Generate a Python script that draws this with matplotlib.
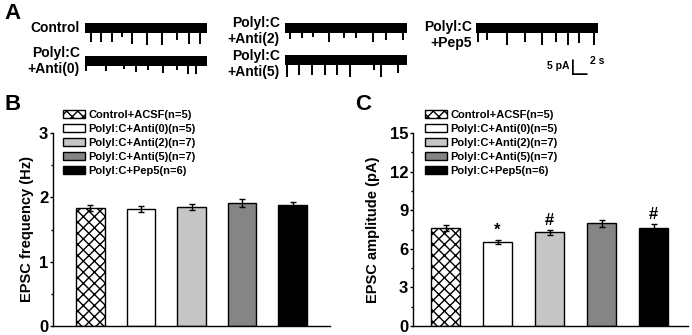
import numpy as np
import matplotlib
matplotlib.use('Agg')
import matplotlib.pyplot as plt

plt.rcParams['font.family'] = ['Liberation Sans', 'DejaVu Sans']
plt.rcParams['font.weight'] = 'bold'
plt.rcParams['axes.labelweight'] = 'bold'
plt.rcParams['hatch.linewidth'] = 1.0

# groups
groups = ['Control+ACSF(n=5)', 'Polyl:C+Anti(0)(n=5)', 'Polyl:C+Anti(2)(n=7)',
          'Polyl:C+Anti(5)(n=7)', 'Polyl:C+Pep5(n=6)']
bar_colors = ['white', 'white', '#c6c6c6', '#858585', 'black']
bar_hatch = ['xxx', None, None, None, None]

# B: EPSC frequency (Hz)
freq_mean = [1.83, 1.82, 1.85, 1.91, 1.88]
freq_err = [0.05, 0.05, 0.05, 0.06, 0.04]

# C: EPSC amplitude (pA)
amp_mean = [7.62, 6.51, 7.28, 7.98, 7.65]
amp_err = [0.25, 0.17, 0.17, 0.25, 0.25]
amp_marks = ['', '*', '#', '', '#']

# A: example traces, event times (s) and peak amplitudes (pA)
trace_len = 17.0
noise_half = 1.7
trace_names = ['Control', 'Polyl:C\n+Anti(0)', 'Polyl:C\n+Anti(2)', 'Polyl:C\n+Anti(5)', 'Polyl:C\n+Pep5']
trace_times = [
    [0.8, 2.2, 3.7, 5.1, 6.5, 8.6, 10.7, 12.8, 14.5, 16.0],
    [0.2, 2.9, 5.4, 7.1, 8.8, 10.9, 12.8, 14.3, 15.5],
    [0.7, 2.4, 3.9, 6.1, 8.2, 9.9, 12.2, 14.1, 16.5],
    [0.3, 1.9, 3.7, 5.6, 7.3, 9.0, 12.4, 13.4, 15.8],
    [0.3, 1.5, 4.3, 6.8, 9.2, 11.1, 12.8, 14.3, 16.5],
]
trace_amps = [
    [4.7, 4.7, 4.7, 3.1, 5.4, 5.6, 5.6, 3.9, 5.4, 5.4],
    [3.3, 3.3, 2.5, 3.6, 3.0, 4.1, 3.0, 4.4, 4.4],
    [3.7, 3.4, 3.0, 4.8, 3.2, 3.4, 4.5, 4.1, 4.1],
    [5.6, 5.0, 5.0, 5.0, 5.0, 5.6, 3.4, 5.6, 4.5],
    [4.5, 3.9, 5.8, 4.5, 5.6, 4.5, 5.6, 5.0, 5.8],
]

W, H = 692, 335
fig = plt.figure(figsize=(W / 100, H / 100), dpi=100)


def px_axes(left, top, width, height):
    return fig.add_axes([left / W, 1 - (top + height) / H, width / W, height / H])


# ---- panel A: traces
trace_pos = [(85, 22), (85, 55), (285, 22), (285, 54), (476, 22)]
label_pos = [(80, 28), (80, 61), (280, 31), (280, 64), (472, 35)]
for i in range(5):
    ax = px_axes(trace_pos[i][0], trace_pos[i][1], 122, 27)
    ax.fill_between([0, trace_len], -noise_half, noise_half, color='black', lw=0)
    ax.vlines(trace_times[i], 0, -np.array(trace_amps[i]), color='black', lw=1.4)
    ax.set_xlim(0, trace_len)
    ax.set_ylim(-7, 2)
    ax.axis('off')
    fig.text(label_pos[i][0] / W, 1 - label_pos[i][1] / H, trace_names[i],
             ha='right', va='center', fontsize=10, linespacing=1.15)

# scale bar: 5 pA, 2 s
sb = px_axes(572, 55, 29, 20)
sb.plot([0, 0, 2], [5, 0, 0], color='black', lw=1.8, solid_capstyle='butt')
sb.set_xlim(0, 4)
sb.set_ylim(-0.5, 6.17)
sb.axis('off')
sb.text(-0.4, 2.6, '5 pA', ha='right', va='center', fontsize=7.5)
sb.text(2.5, 2.4, '2 s', ha='left', va='bottom', fontsize=7.5)


# ---- bar panels
def bar_panel(ax, means, errs, ymax, step, ylabel, xlim, label_x):
    x = np.arange(1, 6)
    bars = ax.bar(x, means, width=0.57, color=bar_colors, edgecolor='black',
                  linewidth=1.0, label=groups)
    for b, h in zip(bars, bar_hatch):
        if h:
            b.set_hatch(h)
    ax.errorbar(x, means, yerr=errs, fmt='none', ecolor='black', elinewidth=1.0,
                capsize=2.5, capthick=1.0)
    ax.set_xlim(*xlim)
    ax.set_ylim(0, ymax)
    ax.set_yticks(np.arange(0, ymax + 0.01, step))
    ax.set_yticks(np.arange(step / 2, ymax, step), minor=True)
    ax.set_xticks([])
    for s in ['top', 'right']:
        ax.spines[s].set_visible(False)
    for s in ['left', 'bottom']:
        ax.spines[s].set_linewidth(1.0)
    ax.tick_params(axis='y', which='major', direction='out', length=2.5, width=1.0,
                   labelsize=12, pad=1)
    ax.tick_params(axis='y', which='minor', direction='out', length=1.5, width=1.0)
    for t in ax.get_yticklabels():
        t.set_fontweight('bold')
    ax.set_ylabel(ylabel, fontsize=10.5, va='center')
    ax.yaxis.set_label_coords(label_x, 0.5)
    return bars


axB = px_axes(53, 133, 277, 193)
barsB = bar_panel(axB, freq_mean, freq_err, 3, 1, 'EPSC frequency (Hz)', (0.26, 5.74),
                  (27 - 53) / 277)
axB.legend(handles=list(barsB), labels=groups, loc='upper left',
           bbox_to_anchor=(0.036, 1.12), frameon=False, fontsize=8,
           handlelength=2.0, handleheight=0.8, labelspacing=0.35,
           handletextpad=0.3, borderpad=0, borderaxespad=0)

axC = px_axes(413, 133, 275, 193)
barsC = bar_panel(axC, amp_mean, amp_err, 15, 3, 'EPSC amplitude (pA)', (0.375, 5.66),
                  (373 - 413) / 275)
axC.legend(handles=list(barsC), labels=groups, loc='upper left',
           bbox_to_anchor=(0.044, 1.12), frameon=False, fontsize=8,
           handlelength=2.0, handleheight=0.8, labelspacing=0.35,
           handletextpad=0.3, borderpad=0, borderaxespad=0)
for i, m in enumerate(amp_marks):
    if m:
        axC.text(i + 1, amp_mean[i] + amp_err[i] + 0.2, m, ha='center',
                 va='bottom', fontsize=12)

# panel letters
fig.text(4 / W, 1 - 3 / H, 'A', fontsize=16, va='top')
fig.text(4 / W, 1 - 94 / H, 'B', fontsize=16, va='top')
fig.text(355 / W, 1 - 94 / H, 'C', fontsize=16, va='top')

fig.savefig('out.png', dpi=100)
